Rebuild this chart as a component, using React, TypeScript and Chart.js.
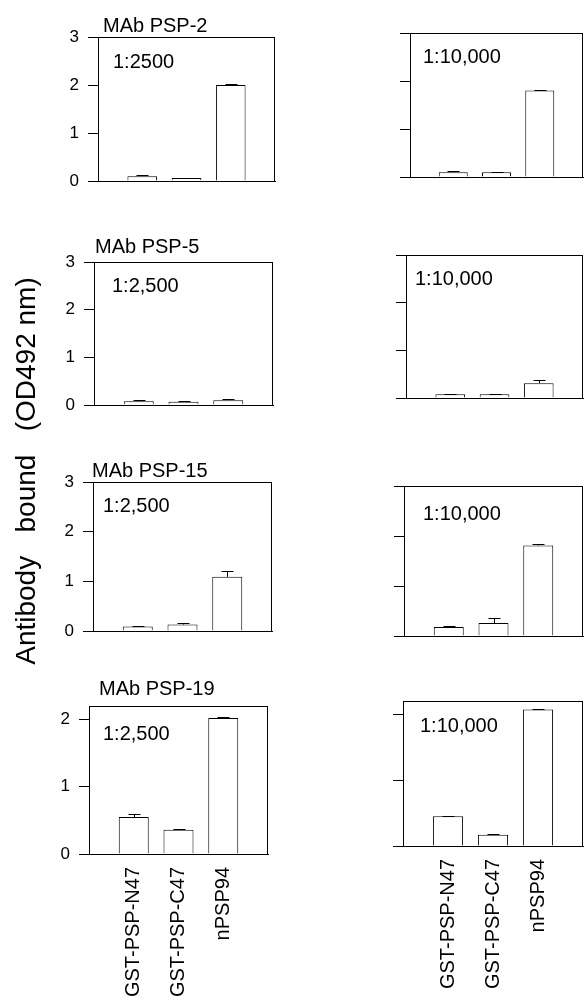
import React, { useEffect, useRef } from "react";
import { Chart, registerables } from "chart.js";

Chart.register(...registerables);

const FONT = '"Liberation Sans", Arial, Helvetica, sans-serif';

// ---- data ----
const categories = ["GST-PSP-N47", "GST-PSP-C47", "nPSP94"];

const psp2_2500 = [0.10, 0.06, 2.0];
const psp2_2500Err = [0.03, 0.01, 0.03];
const psp2_10000 = [0.10, 0.10, 1.80];
const psp2_10000Err = [0.02, 0.01, 0.02];

const psp5_2500 = [0.08, 0.07, 0.10];
const psp5_2500Err = [0.03, 0.01, 0.03];
const psp5_10000 = [0.08, 0.08, 0.31];
const psp5_10000Err = [0.01, 0.01, 0.06];

const psp15_2500 = [0.09, 0.13, 1.09];
const psp15_2500Err = [0.01, 0.04, 0.12];
const psp15_10000 = [0.18, 0.26, 1.81];
const psp15_10000Err = [0.02, 0.10, 0.04];

const psp19_2500 = [0.55, 0.36, 2.02];
const psp19_2500Err = [0.05, 0.01, 0.01];
const psp19_10000 = [0.45, 0.17, 2.07];
const psp19_10000Err = [0.01, 0.01, 0.01];

const yAxisTitle = "Antibody   bound   (OD492 nm)";

type Spec = {
  title?: string;
  dilution: string;
  values: number[];
  errors: number[];
  yMax: number;
  left: number;
  top: number;
  right: number;
  bottom: number;
  showYLabels: boolean;
  showXLabels: boolean;
  titleDx: number;
  titleDy: number;
  annDx: number;
  annDy: number;
};

const panels: Spec[] = [
  { title: "MAb PSP-2", dilution: "1:2500", values: psp2_2500, errors: psp2_2500Err, yMax: 3,
    left: 98, top: 37, right: 275, bottom: 181, showYLabels: true, showXLabels: false,
    titleDx: 5, titleDy: -5, annDx: 15, annDy: 31 },
  { dilution: "1:10,000", values: psp2_10000, errors: psp2_10000Err, yMax: 3,
    left: 410, top: 33, right: 583, bottom: 177, showYLabels: false, showXLabels: false,
    titleDx: 0, titleDy: 0, annDx: 13, annDy: 30 },
  { title: "MAb PSP-5", dilution: "1:2,500", values: psp5_2500, errors: psp5_2500Err, yMax: 3,
    left: 94, top: 262, right: 273, bottom: 405, showYLabels: true, showXLabels: false,
    titleDx: 1, titleDy: -9, annDx: 18, annDy: 30 },
  { dilution: "1:10,000", values: psp5_10000, errors: psp5_10000Err, yMax: 3,
    left: 406, top: 255, right: 583, bottom: 398, showYLabels: false, showXLabels: false,
    titleDx: 0, titleDy: 0, annDx: 9, annDy: 30 },
  { title: "MAb PSP-15", dilution: "1:2,500", values: psp15_2500, errors: psp15_2500Err, yMax: 3,
    left: 93, top: 482, right: 272, bottom: 631, showYLabels: true, showXLabels: false,
    titleDx: -1, titleDy: -5, annDx: 10, annDy: 30 },
  { dilution: "1:10,000", values: psp15_10000, errors: psp15_10000Err, yMax: 3,
    left: 404, top: 486, right: 583, bottom: 636, showYLabels: false, showXLabels: false,
    titleDx: 0, titleDy: 0, annDx: 19, annDy: 34 },
  { title: "MAb PSP-19", dilution: "1:2,500", values: psp19_2500, errors: psp19_2500Err, yMax: 2.2,
    left: 89, top: 706, right: 268, bottom: 854, showYLabels: true, showXLabels: true,
    titleDx: 10, titleDy: -11, annDx: 14, annDy: 34 },
  { dilution: "1:10,000", values: psp19_10000, errors: psp19_10000Err, yMax: 2.2,
    left: 403, top: 701, right: 583, bottom: 846, showYLabels: false, showXLabels: true,
    titleDx: 0, titleDy: 0, annDx: 17, annDy: 31 },
];

function Panel({ s }: { s: Spec }) {
  const ref = useRef<HTMLCanvasElement>(null);
  const axW = s.showYLabels ? 60 : 14;
  const padTop = 40;
  const padRight = 1;
  const xH = s.showXLabels ? 145 : 14;
  const w = axW + (s.right - s.left) + padRight;
  const h = padTop + (s.bottom - s.top) + xH;
  const cx = s.left - axW;
  const cy = s.top - padTop;

  useEffect(() => {
    if (!ref.current) return;
    const errPlugin = {
      id: "errbars",
      afterDatasetsDraw(chart: any) {
        const ctx = chart.ctx;
        const meta = chart.getDatasetMeta(0);
        const y = chart.scales.y;
        ctx.save();
        ctx.strokeStyle = "#000";
        ctx.lineWidth = 1;
        s.values.forEach((v, i) => {
          const el = meta.data[i + 1];
          if (!el) return;
          const x = Math.round(el.x) + 0.5;
          const y0 = y.getPixelForValue(v);
          const y1 = Math.round(y.getPixelForValue(v + s.errors[i])) + 0.5;
          ctx.beginPath();
          ctx.moveTo(x, y0);
          ctx.lineTo(x, y1);
          ctx.moveTo(x - 6, y1);
          ctx.lineTo(x + 6, y1);
          ctx.stroke();
        });
        ctx.restore();
      },
    };
    const framePlugin = {
      id: "frame",
      afterDraw(chart: any) {
        const ctx = chart.ctx;
        const a = chart.chartArea;
        ctx.save();
        ctx.strokeStyle = "#000";
        ctx.lineWidth = 1;
        ctx.strokeRect(a.left + 0.5, a.top + 0.5, a.right - a.left - 1, a.bottom - a.top);
        ctx.fillStyle = "#000";
        ctx.font = `20px ${FONT}`;
        ctx.textAlign = "left";
        ctx.textBaseline = "alphabetic";
        if (s.title) ctx.fillText(s.title, a.left + s.titleDx, a.top + s.titleDy);
        ctx.fillText(s.dilution, a.left + s.annDx, a.top + s.annDy);
        ctx.restore();
      },
    };
    const chart = new Chart(ref.current, {
      type: "bar",
      data: {
        labels: ["", ...categories, ""],
        datasets: [
          {
            data: [null, ...s.values, null],
            backgroundColor: "#ffffff",
            borderColor: "#000000",
            borderWidth: 1,
            barPercentage: 0.67,
            categoryPercentage: 1,
          },
        ],
      },
      options: {
        animation: false,
        responsive: false,
        maintainAspectRatio: false,
        devicePixelRatio: 1,
        layout: { padding: { top: padTop, right: padRight, left: 0, bottom: 0 } },
        plugins: {
          legend: { display: false },
          tooltip: { enabled: false },
          title: { display: false },
        },
        scales: {
          x: {
            type: "category",
            offset: false,
            grid: { display: true, drawOnChartArea: false, drawTicks: false },
            border: { display: true, color: "#000", width: 1 },
            ticks: {
              display: s.showXLabels,
              autoSkip: false,
              minRotation: 90,
              maxRotation: 90,
              padding: 13,
              color: "#000",
              font: { family: FONT, size: 20 },
            },
            afterFit(scale: any) {
              scale.height = xH;
              scale.paddingLeft = 0;
              scale.paddingRight = 0;
            },
          },
          y: {
            min: 0,
            max: s.yMax,
            grid: { display: true, drawOnChartArea: false, drawTicks: true, tickLength: 10, color: "#000" },
            border: { display: true, color: "#000", width: 1 },
            ticks: {
              stepSize: 1,
              includeBounds: false,
              display: s.showYLabels,
              padding: 9,
              color: "#000",
              font: { family: FONT, size: 17 },
            },
            afterFit(scale: any) {
              scale.width = axW;
              scale.paddingTop = 0;
              scale.paddingBottom = 0;
            },
          },
        },
      } as any,
      plugins: [errPlugin, framePlugin],
    });
    return () => chart.destroy();
  }, []);

  return (
    <canvas
      ref={ref}
      width={w}
      height={h}
      style={{ position: "absolute", left: cx, top: cy, width: w, height: h }}
    />
  );
}

export default function App() {
  return (
    <div
      style={{
        position: "absolute",
        left: 0,
        top: 0,
        width: 584,
        height: 1000,
        overflow: "hidden",
        background: "#fff",
      }}
    >
      {panels.map((p, i) => (
        <Panel key={i} s={p} />
      ))}
      <div
        style={{
          position: "absolute",
          left: 26 - 220,
          top: 471 - 17,
          width: 440,
          height: 34,
          lineHeight: "34px",
          textAlign: "center",
          whiteSpace: "pre",
          fontFamily: FONT,
          fontSize: 28,
          color: "#000",
          transform: "rotate(-90deg)",
        }}
      >
        {yAxisTitle}
      </div>
    </div>
  );
}
